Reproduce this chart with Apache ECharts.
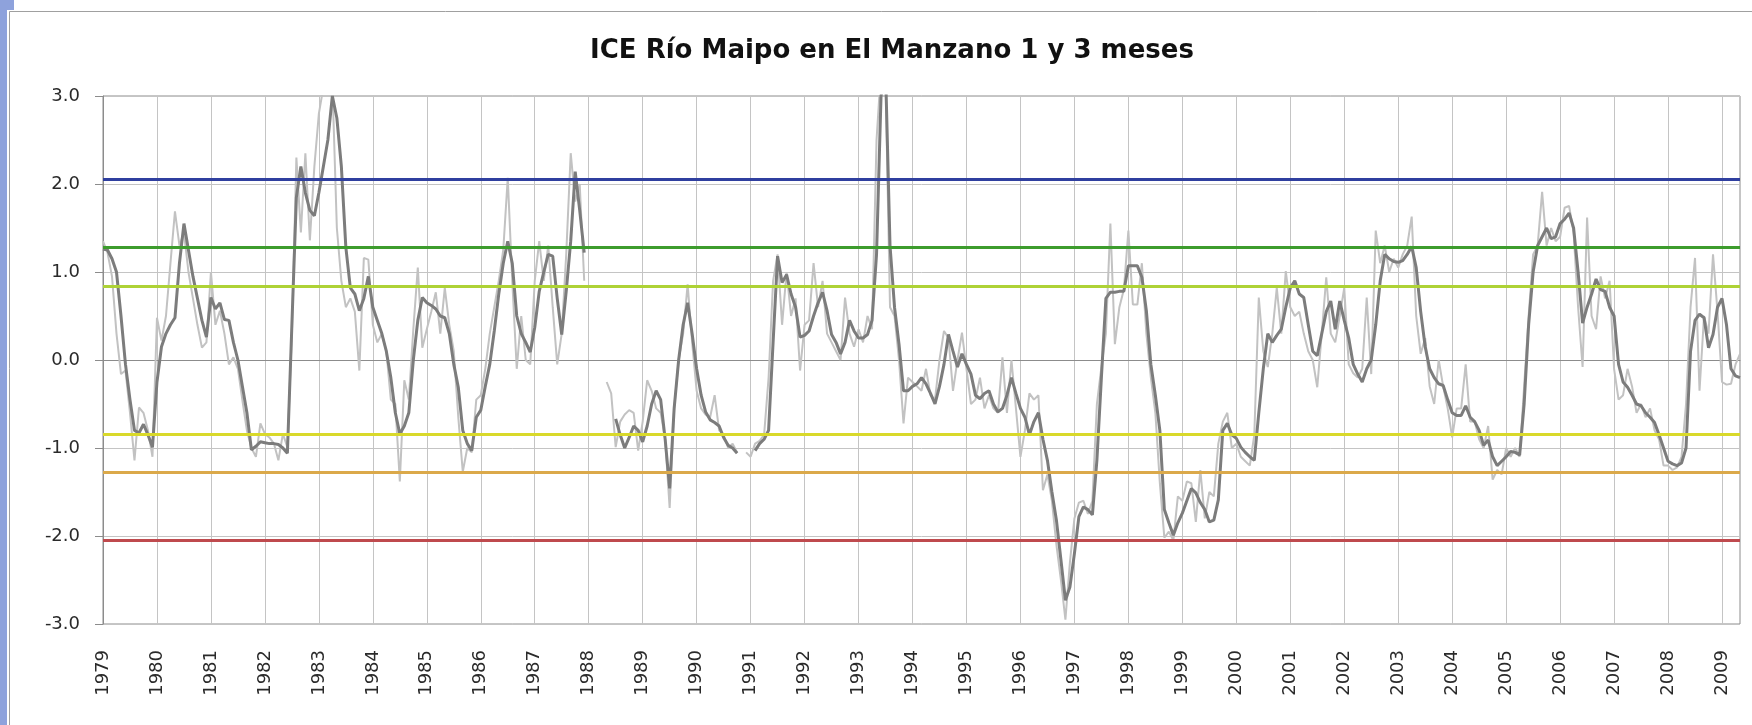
<!DOCTYPE html>
<html><head><meta charset="utf-8">
<script src="https://cdn.jsdelivr.net/npm/echarts@6/dist/echarts.min.js"></script>
<style>html,body{margin:0;padding:0;background:#fff}#c{width:1752px;height:725px}</style>
</head><body><div id="c"></div><script>
// Tick labels (years) and chart title
const yearLabels = ['1979','1980','1981','1982','1983','1984','1985','1986','1987','1988','1989','1990','1991','1992','1993','1994','1995','1996','1997','1998','1999','2000','2001','2002','2003','2004','2005','2006','2007','2008','2009'];
const titleText = 'ICE Río Maipo en El Manzano 1 y 3 meses';
// Threshold reference lines
const thresholds = [2.05, 1.28, 0.84, -0.84, -1.28, -2.05];
const thresholdColors = ['#2f3f9f', '#3d9c2d', '#aed236', '#d9d92a', '#dba94a', '#bf4a4e'];

// ICE 1 mes (light grey), monthly values per year
const ice1 = [
 [1.35,1.22,0.95,0.3,-0.16,-0.12,-0.6,-1.14,-0.54,-0.6,-0.8,-1.1],
 [0.48,0.22,0.5,1.1,1.69,1.3,1.45,1.0,0.7,0.4,0.14,0.2],
 [1.0,0.4,0.56,0.3,-0.05,0.03,-0.1,-0.46,-0.8,-1.0,-1.1,-0.72],
 [-0.84,-0.88,-0.95,-1.14,-0.84,-0.99,0.3,2.3,1.45,2.35,1.36,2.2],
 [2.8,3.1,3.2,3.15,1.5,0.9,0.6,0.7,0.55,-0.12,1.16,1.14],
 [0.4,0.2,0.3,0.1,-0.45,-0.5,-1.38,-0.23,-0.45,0.35,1.05,0.14],
 [0.35,0.55,0.77,0.3,0.82,0.4,0.1,-0.65,-1.27,-1.0,-1.05,-0.45],
 [-0.4,-0.1,0.3,0.6,0.9,1.25,2.07,0.9,-0.1,0.5,0.0,-0.05],
 [0.9,1.35,0.9,1.3,0.6,-0.05,0.3,1.2,2.35,1.8,2.0,0.9],
 [null,null,null,null,-0.25,-0.38,-0.99,-0.7,-0.62,-0.57,-0.6,-1.03],
 [-0.7,-0.23,-0.35,-0.55,-0.6,-0.9,-1.68,-0.55,0.0,0.3,0.86,0.2],
 [-0.35,-0.55,-0.62,-0.65,-0.4,-0.8,-0.85,-1.0,-0.95,-1.05,null,-1.05],
 [-1.1,-0.95,-0.92,-0.85,-0.2,0.9,1.2,0.4,1.0,0.5,0.7,-0.12],
 [0.4,0.45,1.1,0.6,0.9,0.3,0.2,0.1,0.0,0.71,0.3,0.15],
 [0.35,0.2,0.5,0.35,2.5,3.3,3.2,0.6,0.5,0.0,-0.72,-0.2],
 [-0.25,-0.3,-0.35,-0.1,-0.4,-0.45,0.0,0.33,0.25,-0.35,0.0,0.31],
 [-0.1,-0.5,-0.45,-0.2,-0.55,-0.4,-0.55,-0.6,0.03,-0.6,0.0,-0.55],
 [-1.1,-0.8,-0.38,-0.45,-0.4,-1.48,-1.3,-1.6,-2.1,-2.5,-2.95,-2.3],
 [-1.8,-1.62,-1.6,-1.75,-1.6,-0.5,-0.08,0.3,1.55,0.18,0.6,0.8],
 [1.47,0.63,0.63,1.1,0.3,-0.2,-0.6,-1.4,-2.02,-1.95,-2.05,-1.55],
 [-1.6,-1.38,-1.4,-1.84,-1.25,-1.8,-1.5,-1.55,-0.95,-0.7,-0.6,-1.0],
 [-0.95,-1.1,-1.15,-1.2,-0.85,0.71,0.1,-0.08,0.3,0.82,0.3,1.01],
 [0.6,0.5,0.55,0.3,0.1,0.0,-0.31,0.3,0.94,0.3,0.2,0.5],
 [0.82,-0.05,-0.15,-0.2,-0.1,0.71,-0.16,1.47,1.1,1.3,1.0,1.15],
 [1.05,1.2,1.3,1.63,0.5,0.07,0.25,-0.3,-0.5,0.0,-0.3,-0.55],
 [-0.88,-0.55,-0.55,-0.05,-0.7,-0.7,-0.9,-1.0,-0.75,-1.36,-1.25,-1.3],
 [-1.0,-1.1,-1.0,-1.1,-0.3,0.5,1.2,1.3,1.91,1.3,1.5,1.35],
 [1.4,1.73,1.75,1.45,0.6,-0.08,1.62,0.5,0.35,0.95,0.7,0.9],
 [-0.1,-0.45,-0.4,-0.1,-0.3,-0.6,-0.5,-0.65,-0.55,-0.8,-0.9,-1.2],
 [-1.2,-1.25,-1.22,-1.1,-0.5,0.6,1.16,-0.35,0.5,0.3,1.2,0.55],
 [-0.25,-0.28,-0.27,-0.05,0.07]
];

// ICE 3 meses (dark grey), monthly values per year
const ice3 = [
 [1.26,1.25,1.15,1.0,0.5,-0.05,-0.45,-0.8,-0.83,-0.73,-0.85,-0.99],
 [-0.25,0.15,0.3,0.4,0.48,1.1,1.55,1.25,0.95,0.7,0.45,0.26],
 [0.71,0.58,0.65,0.46,0.45,0.2,0.0,-0.3,-0.6,-1.02,-0.98,-0.93],
 [-0.94,-0.95,-0.95,-0.96,-1.0,-1.06,0.4,1.85,2.2,1.9,1.7,1.64],
 [1.9,2.2,2.5,3.0,2.75,2.2,1.28,0.82,0.75,0.56,0.7,0.95],
 [0.6,0.45,0.3,0.1,-0.2,-0.6,-0.84,-0.75,-0.6,0.0,0.45,0.71],
 [0.65,0.62,0.58,0.5,0.48,0.3,-0.05,-0.31,-0.8,-0.95,-1.03,-0.65],
 [-0.57,-0.3,-0.05,0.33,0.75,1.1,1.35,1.1,0.5,0.3,0.2,0.09],
 [0.37,0.78,1.0,1.2,1.18,0.7,0.29,0.78,1.35,2.14,1.7,1.22],
 [null,null,null,null,null,null,-0.67,-0.85,-1.0,-0.88,-0.75,-0.8],
 [-0.93,-0.75,-0.5,-0.35,-0.45,-0.9,-1.46,-0.55,0.0,0.4,0.65,0.3],
 [-0.1,-0.4,-0.59,-0.68,-0.71,-0.75,-0.88,-0.97,-1.0,-1.06,null,null],
 [null,-1.03,-0.95,-0.9,-0.8,0.2,1.18,0.88,0.97,0.75,0.6,0.26],
 [0.28,0.33,0.5,0.65,0.77,0.56,0.29,0.2,0.07,0.2,0.45,0.33],
 [0.25,0.25,0.29,0.45,1.2,3.0,3.3,1.3,0.6,0.18,-0.35,-0.35],
 [-0.3,-0.27,-0.2,-0.27,-0.38,-0.5,-0.3,-0.05,0.29,0.1,-0.08,0.07],
 [-0.05,-0.16,-0.4,-0.44,-0.38,-0.35,-0.5,-0.59,-0.55,-0.4,-0.2,-0.38],
 [-0.55,-0.65,-0.85,-0.7,-0.6,-0.9,-1.14,-1.5,-1.82,-2.27,-2.73,-2.58],
 [-2.2,-1.78,-1.67,-1.7,-1.76,-1.14,-0.2,0.7,0.77,0.77,0.78,0.78],
 [1.07,1.07,1.07,0.94,0.56,-0.05,-0.4,-0.8,-1.7,-1.85,-1.99,-1.85],
 [-1.74,-1.6,-1.46,-1.51,-1.62,-1.7,-1.84,-1.82,-1.59,-0.8,-0.72,-0.85],
 [-0.89,-0.99,-1.05,-1.1,-1.14,-0.6,-0.1,0.3,0.2,0.28,0.35,0.6],
 [0.82,0.9,0.75,0.71,0.4,0.1,0.05,0.3,0.55,0.67,0.35,0.67],
 [0.45,0.25,-0.05,-0.16,-0.25,-0.1,0.0,0.4,0.9,1.2,1.15,1.12],
 [1.11,1.13,1.2,1.29,1.05,0.55,0.15,-0.1,-0.2,-0.27,-0.29,-0.45],
 [-0.6,-0.63,-0.63,-0.52,-0.65,-0.7,-0.8,-0.97,-0.91,-1.1,-1.2,-1.15],
 [-1.1,-1.04,-1.05,-1.08,-0.5,0.4,1.0,1.3,1.4,1.5,1.38,1.4],
 [1.55,1.6,1.67,1.5,1.0,0.42,0.6,0.75,0.92,0.8,0.78,0.6],
 [0.5,-0.05,-0.25,-0.31,-0.4,-0.5,-0.52,-0.6,-0.65,-0.71,-0.85,-1.0],
 [-1.15,-1.18,-1.2,-1.17,-1.0,0.1,0.45,0.52,0.48,0.14,0.29,0.6],
 [0.7,0.4,-0.1,-0.18,-0.2]
];

// Build month categories from the year labels
const light = ice1.flat();
const dark = ice3.flat();
const months = [];
for (let i = 0; i < dark.length; i++) {
  months.push(yearLabels[Math.floor(i / 12)] + '-' + String(i % 12 + 1).padStart(2, '0'));
}
const isJan = (i) => i % 12 === 0;
const font = 'DejaVu Sans';

const chart = echarts.init(document.getElementById('c'), null, {renderer: 'canvas'});
const problems = [];
if (light.length !== dark.length) problems.push('len ' + light.length + ' vs ' + dark.length);
chart.setOption({
  animation: false,
  backgroundColor: '#ffffff',
  title: {
    text: titleText, left: 887, top: 33, textAlign: 'center',
    textStyle: {fontFamily: font, fontWeight: 'bold', fontSize: 26, color: '#111'}
  },
  grid: {left: 103, right: 12, top: 96, bottom: 101, show: true, borderColor: '#8c8c8c', borderWidth: 1},
  xAxis: {
    type: 'category', data: months, boundaryGap: false,
    axisLine: {show: true, lineStyle: {color: '#8c8c8c', width: 1}},
    axisTick: {show: false},
    axisLabel: {interval: (i) => isJan(i), rotate: 90, margin: 26, formatter: (v) => v.slice(0, 4),
      fontFamily: font, fontSize: 18, color: '#2a2a2a'},
    splitLine: {show: true, interval: (i) => isJan(i), lineStyle: {color: '#c4c4c4', width: 1}}
  },
  yAxis: {
    type: 'value', min: -3, max: 3, interval: 1,
    axisLine: {show: true, lineStyle: {color: '#8c8c8c', width: 1}},
    axisTick: {show: true, length: 8, lineStyle: {color: '#8c8c8c'}},
    axisLabel: {formatter: (v) => v.toFixed(1), margin: 23, fontFamily: font, fontSize: 18, color: '#2a2a2a'},
    splitLine: {show: true, lineStyle: {color: '#c4c4c4', width: 1}}
  },
  graphic: [
    {type: 'rect', shape: {x: 0, y: 0, width: 7, height: 725}, style: {fill: '#8ea2dc'}, silent: true},
    {type: 'rect', shape: {x: 0, y: 0, width: 14, height: 10}, style: {fill: '#8ea2dc'}, silent: true},
    {type: 'rect', shape: {x: 9.5, y: 11.5, width: 1800, height: 800}, style: {fill: null, stroke: '#a0a0a0', lineWidth: 1}, silent: true},
    {type: 'text', left: 300, top: 300, style: {text: problems.join(' '), fill: 'red', fontSize: 30}, z: 100}
  ],
  series: [
    {
      name: 'umbrales', type: 'line', data: [], z: 1, silent: true,
      markLine: {
        symbol: 'none', silent: true, animation: false, label: {show: false},
        data: thresholds.map((t, i) => ({yAxis: t, lineStyle: {color: thresholdColors[i], width: 3, type: 'solid'}}))
      }
    },
    {
      name: 'ICE 1 mes', type: 'line', data: light, z: 2, showSymbol: false, connectNulls: false,
      lineStyle: {color: '#c2c2c2', width: 2}, emphasis: {disabled: true}
    },
    {
      name: 'ICE 3 meses', type: 'line', data: dark, z: 3, showSymbol: false, connectNulls: false,
      lineStyle: {color: '#7c7c7c', width: 3}, emphasis: {disabled: true}
    }
  ]
});
</script></body></html>
